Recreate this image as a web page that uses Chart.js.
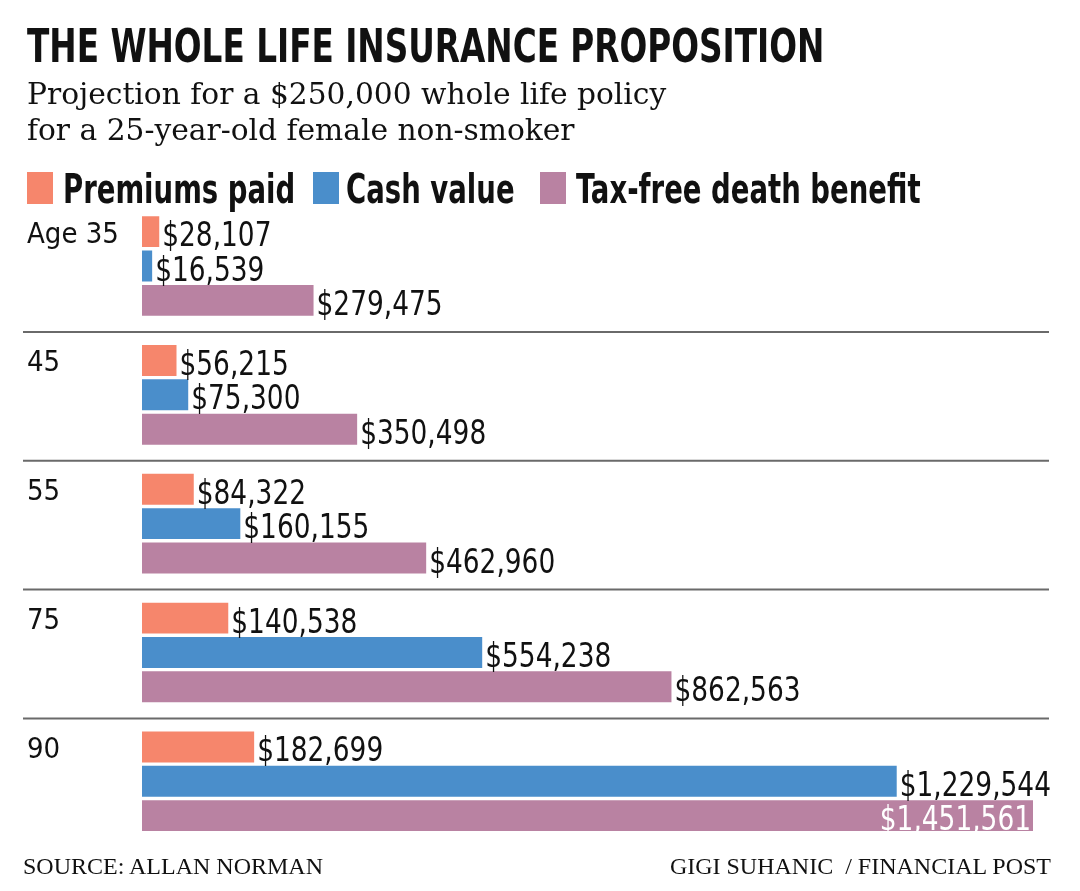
<!DOCTYPE html>
<html><head><meta charset="utf-8">
<script src="https://cdn.jsdelivr.net/npm/chart.js@4"></script>
<style>
html,body{margin:0;padding:0;background:#fff;}
body{width:1080px;height:891px;position:relative;overflow:hidden;}
#chartBox{position:absolute;left:0;top:0;width:1080px;height:891px;}
.t{position:absolute;white-space:pre;color:#111;margin:0;}
.cond{font-family:"Liberation Sans Narrow","DejaVu Sans Condensed",sans-serif;transform-origin:0 0;}
#title{left:27px;top:23px;font-weight:bold;font-size:46px;line-height:46px;transform:scaleX(0.79);}
#sub{left:27px;top:76px;font-size:29.7px;line-height:35.5px;font-family:"DejaVu Serif",serif;}
.sw{position:absolute;width:26px;height:32px;top:172px;}
.lt{top:169px;font-weight:bold;font-size:40px;line-height:40px;transform:scaleX(0.765);}
#src{left:23px;top:854px;font-size:24px;line-height:24px;font-family:"Liberation Serif",serif;}
#credit{right:29px;top:854px;font-size:24px;line-height:24px;font-family:"Liberation Serif",serif;}
</style>
</head><body>
<div id="chartBox"><canvas id="c" width="1080" height="891"></canvas></div>
<div class="t cond" id="title">THE WHOLE LIFE INSURANCE PROPOSITION</div>
<div class="t" id="sub">Projection for a $250,000 whole life policy
for a 25-year-old female non-smoker</div>
<div id="legend"></div>
<div class="t" id="src">SOURCE: ALLAN NORMAN</div>
<div class="t" id="credit">GIGI SUHANIC  / FINANCIAL POST</div>
<script>
const categories = ['Age 35', '45', '55', '75', '90'];
const seriesNames = ['Premiums paid', 'Cash value', 'Tax-free death benefit'];
const premiumsPaid = [28107, 56215, 84322, 140538, 182699];
const cashValue = [16539, 75300, 160155, 554238, 1229544];
const deathBenefit = [279475, 350498, 462960, 862563, 1451561];
const seriesColors = ['#F6866C', '#4A8ECB', '#B982A2'];

const NARROW = '"Liberation Sans Narrow","DejaVu Sans Condensed",sans-serif';
const allSeries = [premiumsPaid, cashValue, deathBenefit];

// HTML legend
const legendSwatchX = [27, 313, 540];
const legendTextX = [63, 346, 576];
const leg = document.getElementById('legend');
seriesNames.forEach((n, i) => {
  const sw = document.createElement('div'); sw.className = 'sw';
  sw.style.background = seriesColors[i]; sw.style.left = legendSwatchX[i] + 'px';
  const tx = document.createElement('div'); tx.className = 't cond lt';
  tx.textContent = n; tx.style.left = legendTextX[i] + 'px';
  leg.appendChild(sw); leg.appendChild(tx);
});

const fmt = v => '$' + v.toLocaleString('en-US');

const separators = {
  id: 'separators',
  afterDraw(chart) {
    const y = chart.scales.y, ctx = chart.ctx;
    ctx.save();
    ctx.strokeStyle = '#6a6a6a';
    ctx.lineWidth = 2;
    for (let i = 0; i < categories.length - 1; i++) {
      const py = (y.getPixelForValue(i) + y.getPixelForValue(i + 1)) / 2 + 1.5;
      ctx.beginPath(); ctx.moveTo(23, py); ctx.lineTo(1049, py); ctx.stroke();
    }
    ctx.restore();
  }
};

const LABEL_SCALE = 0.89;
const valueLabels = {
  id: 'valueLabels',
  afterDatasetsDraw(chart) {
    const ctx = chart.ctx;
    ctx.save();
    ctx.font = '33px ' + NARROW;
    ctx.textBaseline = 'alphabetic';
    chart.data.datasets.forEach((ds, di) => {
      const meta = chart.getDatasetMeta(di);
      meta.data.forEach((bar, i) => {
        const txt = fmt(ds.data[i]);
        const w = ctx.measureText(txt).width * LABEL_SCALE;
        const ty = bar.y + 14.5;
        const inside = bar.x + 3 + w > chart.width - 2;
        ctx.save();
        ctx.translate(inside ? bar.x - 2 : bar.x + 3, ty);
        ctx.scale(LABEL_SCALE, 1);
        ctx.fillStyle = inside ? '#ffffff' : '#111111';
        ctx.textAlign = inside ? 'right' : 'left';
        ctx.fillText(txt, 0, 0);
        ctx.restore();
      });
    });
    ctx.restore();
  }
};

new Chart(document.getElementById('c'), {
  type: 'bar',
  data: {
    labels: categories,
    datasets: seriesNames.map((n, i) => ({
      label: n,
      data: allSeries[i],
      backgroundColor: seriesColors[i],
      borderWidth: 0,
      categoryPercentage: 0.8,
      barPercentage: 0.9
    }))
  },
  options: {
    indexAxis: 'y',
    responsive: false,
    animation: false,
    devicePixelRatio: 1,
    layout: { padding: { left: 27, right: 47, top: 201.6, bottom: 45.3 } },
    scales: {
      x: { display: false, min: 0, max: Math.max(...premiumsPaid, ...cashValue, ...deathBenefit) },
      y: {
        grid: { display: false },
        border: { display: false },
        ticks: { crossAlign: 'far', padding: 0, labelOffset: -31, color: '#111', font: { family: NARROW, size: 29 } },
        afterFit(s) { s.width = 115; }
      }
    },
    plugins: { legend: { display: false }, tooltip: { enabled: false } }
  },
  plugins: [separators, valueLabels]
});
</script>
</body></html>
